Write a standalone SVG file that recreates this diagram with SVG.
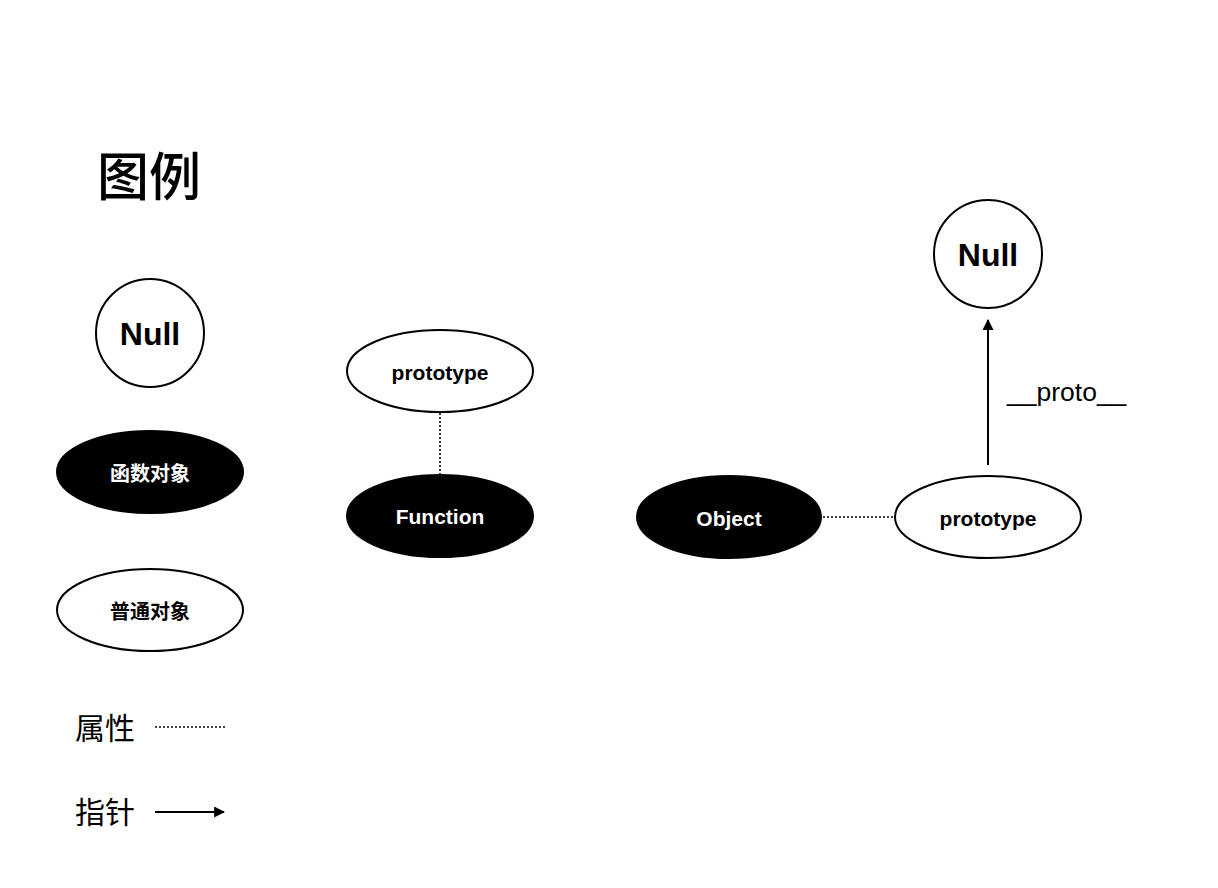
<svg xmlns="http://www.w3.org/2000/svg" width="1218" height="888" viewBox="0 0 1218 888">
<style>
.bg{fill:#fff}
.o{fill:#fff;stroke:#000;stroke-width:2}
.f{fill:#000;stroke:#000;stroke-width:2}
.t{font-family:"Liberation Sans","Noto Sans CJK SC",sans-serif;font-weight:bold;text-anchor:middle;dominant-baseline:central}
.w{fill:#fff}
.k{fill:#000}
.cjk{font-family:"Noto Sans CJK SC","Liberation Sans",sans-serif}
.dot{stroke:#000;stroke-width:1.6;stroke-dasharray:2 2;fill:none}
.ptr{stroke:#000;stroke-width:2;fill:none;marker-end:url(#ah)}
</style>
<defs>
<marker id="ah" viewBox="0 0 10 10" refX="9" refY="5" markerWidth="5.5" markerHeight="5.5" orient="auto" markerUnits="strokeWidth">
<path d="M0,0 L10,5 L0,10 z" fill="#000"/>
</marker>
</defs>
<rect class="bg" x="0" y="0" width="1218" height="888"/>
<g id="legend">
<text x="97" y="196" class="cjk" font-size="52" font-weight="500" fill="#000">图例</text>
<g id="legend-null"><circle class="o" cx="150" cy="333" r="54"/><text class="t k" x="150" y="334" font-size="32">Null</text></g>
<g id="legend-func"><ellipse class="f" cx="150" cy="472" rx="93" ry="41"/><text class="t w cjk" x="150" y="472" font-size="20">函数对象</text></g>
<g id="legend-obj"><ellipse class="o" cx="150" cy="610" rx="93" ry="41"/><text class="t k cjk" x="150" y="610" font-size="20">普通对象</text></g>
<g id="legend-attr"><text x="75" y="739" class="cjk" font-size="30" fill="#000">属性</text><line class="dot" x1="155" y1="727" x2="226" y2="727"/></g>
<g id="legend-ptr"><text x="75" y="823" class="cjk" font-size="30" fill="#000">指针</text><line class="ptr" x1="155" y1="812" x2="224" y2="812"/></g>
</g>
<g id="connectors">
<line class="dot" x1="440" y1="413" x2="440" y2="474"/>
<line class="dot" x1="823" y1="517" x2="893" y2="517"/>
<line class="ptr" x1="988" y1="465" x2="988" y2="320"/>
<text x="1007" y="401" font-family="Liberation Sans,sans-serif" font-size="26.5" fill="#000">__proto__</text>
</g>
<g id="function-prototype"><ellipse class="o" cx="440" cy="371" rx="93" ry="41"/><text class="t k" x="440" y="372" font-size="21">prototype</text></g>
<g id="function"><ellipse class="f" cx="440" cy="516" rx="93" ry="41"/><text class="t w" x="440" y="516" font-size="21">Function</text></g>
<g id="object"><ellipse class="f" cx="729" cy="517" rx="92" ry="41"/><text class="t w" x="729" y="518" font-size="21">Object</text></g>
<g id="object-prototype"><ellipse class="o" cx="988" cy="517" rx="93" ry="41"/><text class="t k" x="988" y="518" font-size="21">prototype</text></g>
<g id="null"><circle class="o" cx="988" cy="254" r="54"/><text class="t k" x="988" y="255" font-size="32">Null</text></g>
</svg>
